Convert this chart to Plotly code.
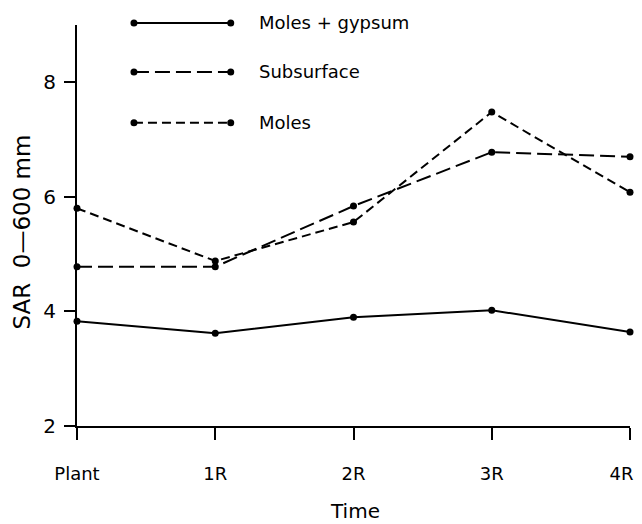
import plotly.graph_objects as go

time_labels = ["Plant", "1R", "2R", "3R", "4R\u00a0\u00a0\u00a0"]
time_pos = [0, 1, 2, 3, 4]
moles_gypsum = [3.83, 3.62, 3.90, 4.02, 3.64]
subsurface = [4.78, 4.78, 5.84, 6.78, 6.70]
moles = [5.80, 4.88, 5.56, 7.48, 6.08]
y_ticks = [2, 4, 6, 8]

series = [
    ("Moles + gypsum", moles_gypsum, "solid"),
    ("Subsurface", subsurface, "15px,6px"),
    ("Moles", moles, "9px,5px"),
]

FONT = "DejaVu Sans, Arial, sans-serif"

fig = go.Figure()
for name, vals, dash in series:
    fig.add_trace(go.Scatter(
        x=time_pos, y=vals, name=name, mode="lines+markers",
        line=dict(color="black", width=2, dash=dash),
        marker=dict(color="black", size=7),
        cliponaxis=False, showlegend=False,
    ))

# custom legend (lines with dots at both ends)
leg_y = [1.005, 0.883, 0.756]
lx0, lx1, tx = 0.103, 0.278, 0.3255
shapes = []
annotations = []
for (name, vals, dash), yy in zip(series, leg_y):
    shapes.append(dict(type="line", xref="paper", yref="paper",
                       x0=lx0, x1=lx1, y0=yy, y1=yy,
                       line=dict(color="black", width=2, dash=dash)))
    for xx in (lx0, lx1):
        shapes.append(dict(type="circle", xref="paper", yref="paper",
                           xsizemode="pixel", ysizemode="pixel",
                           xanchor=xx, yanchor=yy, x0=-3.5, x1=3.5, y0=-3.5, y1=3.5,
                           fillcolor="black", line=dict(color="black", width=0)))
    annotations.append(dict(xref="paper", yref="paper", x=tx, y=yy,
                            text=name, showarrow=False, xanchor="left",
                            yanchor="middle",
                            font=dict(family=FONT, size=18, color="black")))

annotations.append(dict(xref="paper", yref="paper", x=-0.1, y=0.484,
                        text="SAR  0\u2014600 mm", textangle=-90, showarrow=False,
                        xanchor="center", yanchor="middle",
                        font=dict(family=FONT, size=23, color="black")))
annotations.append(dict(xref="paper", yref="paper", x=0.503, y=-0.212,
                        text="Time", showarrow=False,
                        xanchor="center", yanchor="middle",
                        font=dict(family=FONT, size=20, color="black")))

# page body adds an 8px offset; compensate so plot area spans x 77-630, y 25-426
fig.update_layout(
    width=634, height=516, autosize=False,
    margin=dict(l=69, r=12, t=17, b=98, autoexpand=False),
    paper_bgcolor="white", plot_bgcolor="white",
    shapes=shapes, annotations=annotations,
    font=dict(family=FONT, color="black"),
)
fig.update_xaxes(
    range=[0, 4], tickvals=time_pos, ticktext=time_labels, automargin=False,
    ticklabeloverflow="allow",
    showgrid=False, zeroline=False, showline=True, linecolor="black",
    linewidth=2, ticks="outside", ticklen=12, tickwidth=2, tickcolor="black",
    tickfont=dict(family=FONT, size=18, color="black"), ticklabelstandoff=18,
)
fig.update_yaxes(
    range=[2, 9], tickvals=y_ticks, automargin=False,
    showgrid=False, zeroline=False, showline=True, linecolor="black",
    linewidth=2, ticks="outside", ticklen=11, tickwidth=2, tickcolor="black",
    tickfont=dict(family=FONT, size=20, color="black"), ticklabelstandoff=4,
)

fig.write_html("out.html")
